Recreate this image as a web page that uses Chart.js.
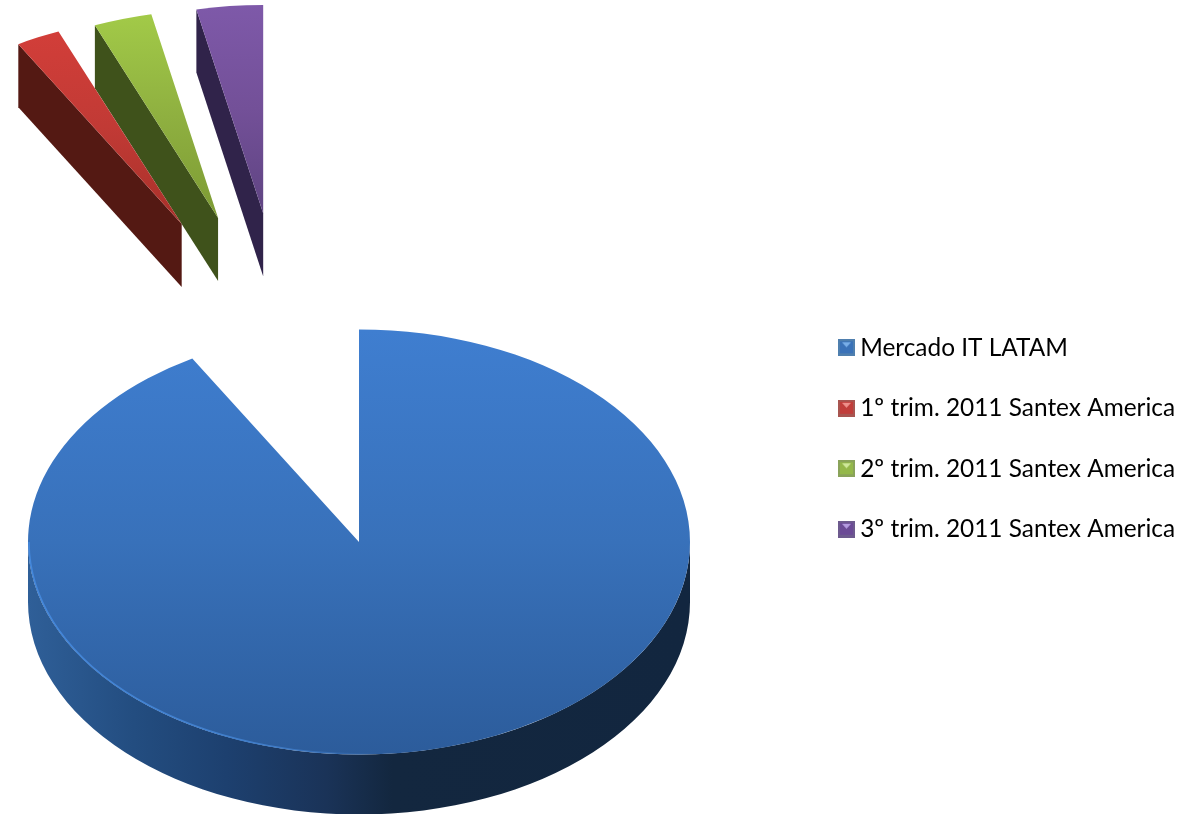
<!DOCTYPE html>
<html>
<head>
<meta charset="utf-8">
<style>
  html, body { margin: 0; padding: 0; background: #ffffff; }
  #wrap { width: 1189px; height: 814px; overflow: hidden; }
</style>
<script src="https://cdn.jsdelivr.net/npm/chart.js@4/dist/chart.umd.min.js"></script>
</head>
<body>
<div id="wrap"><canvas id="pie" width="1189" height="814"></canvas></div>
<script>
// Market share of Santex America against the LATAM IT market
const categories = [
  'Mercado IT LATAM',
  '1º trim. 2011 Santex America',
  '2º trim. 2011 Santex America',
  '3º trim. 2011 Santex America'
];
const shares = [91.6, 2.2, 2.9, 3.3];

// Pulled-out slices: how far each one leaves the pie, and in which direction
const explodeDistance = [0, 526, 524, 521];
const explodeBearing = [0, -19.7, -15.6, -10.6];
const explodedRadiusScale = [1, 0.98, 0.98, 0.98];

// Top-face gradient stops (upper edge to lower edge) and side-wall colours
const faceStops = [
  ['#3f7ed0', '#3871ba', '#2c5c9b'],
  ['#d23e39', '#c13a35', '#a83029'],
  ['#a2ca48', '#8fb040', '#7d9b34'],
  ['#7e59a9', '#735098', '#5f4482']
];
const wallColors = ['#152b4b', '#541913', '#3f521b', '#30234a'];
const baseWallStops = [
  [0, '#2f5f98'], [0.16, '#234d80'], [0.3, '#1d406f'],
  [0.45, '#1a3358'], [0.55, '#13273f'], [1, '#12263f']
];
const markerColors = [
  { edge: '#4f7fae', body: '#3a72b8', hi: '#78aee8' },
  { edge: '#a85550', body: '#c13d3a', hi: '#ee8f8a' },
  { edge: '#8aa35a', body: '#94b84a', hi: '#cfe89a' },
  { edge: '#6d5a8e', body: '#6b4a96', hi: '#b49ae0' }
];

// Perspective of the pie: vertical squash, wall height and rim
const PIE = { x: 359, y: 542, radius: 331, tilt: 0.642, depth: 60, sliceDepth: 63 };

const project = y => PIE.y + (y - PIE.y) * PIE.tilt;

function makeMarker(c) {
  const m = document.createElement('canvas');
  m.width = 17; m.height = 17;
  const g = m.getContext('2d');
  g.fillStyle = c.edge;
  g.fillRect(0, 0, 17, 17);
  g.fillStyle = c.body;
  g.fillRect(2, 2, 13, 12);
  g.fillStyle = c.hi;
  g.beginPath();
  g.moveTo(4, 3); g.lineTo(13, 3); g.lineTo(8.5, 8);
  g.closePath();
  g.fill();
  return m;
}
const markers = markerColors.map(makeMarker);

const tiltedPie = {
  id: 'tiltedPie',
  afterLayout(chart) {
    // The legend column sits beside the pie, level with its upper half
    const lg = chart.legend;
    lg.left = 808.9;
    lg.right = 1189;
    lg.top = 299.5;
    lg.bottom = 814;
  },
  afterDatasetsUpdate(chart) {
    const arcs = chart.getDatasetMeta(0).data;
    arcs.forEach((arc, i) => {
      const b = explodeBearing[i] * Math.PI / 180;
      arc.x = PIE.x + explodeDistance[i] * Math.sin(b);
      arc.y = PIE.y - explodeDistance[i] * Math.cos(b);
      arc.outerRadius = arc.outerRadius * explodedRadiusScale[i];

      // Top-face shading runs from the highest point of the slice to its lowest
      let top, bottom;
      if (i === 0) {
        top = arc.y - arc.outerRadius;
        bottom = arc.y + arc.outerRadius;
      } else {
        const ys = [arc.startAngle, arc.endAngle].map(a => arc.y + arc.outerRadius * Math.sin(a));
        top = Math.min(...ys);
        bottom = arc.y;
      }
      const grad = chart.ctx.createLinearGradient(0, top, 0, bottom);
      faceStops[i].forEach((c, k) => grad.addColorStop(k / (faceStops[i].length - 1), c));
      arc.options = Object.assign({}, arc.options, { backgroundColor: grad });
    });
  },
  beforeDatasetsDraw(chart) {
    const ctx = chart.ctx;
    const arcs = chart.getDatasetMeta(0).data;
    // Back-to-front so the nearer walls overlap the farther ones
    for (let i = arcs.length - 1; i >= 0; i--) {
      const arc = arcs[i];
      const r = arc.outerRadius;
      const d = i === 0 ? PIE.depth : PIE.sliceDepth;
      const ax = arc.x, ay = project(arc.y);
      const fx = ax + r * Math.cos(arc.startAngle);
      const fy = project(arc.y + r * Math.sin(arc.startAngle));

      ctx.fillStyle = wallColors[i];
      ctx.beginPath();
      ctx.moveTo(ax, ay);
      ctx.lineTo(fx, fy);
      ctx.lineTo(fx, fy + d);
      ctx.lineTo(ax, ay + d);
      ctx.closePath();
      ctx.fill();

      // Curved outer wall, only where it faces the viewer
      const lo = Math.max(arc.startAngle, 0);
      const hi = Math.min(arc.endAngle, Math.PI);
      if (hi > lo) {
        const g = ctx.createLinearGradient(ax - r, 0, ax + r, 0);
        baseWallStops.forEach(s => g.addColorStop(s[0], s[1]));
        ctx.fillStyle = g;
        ctx.beginPath();
        ctx.ellipse(ax, ay, r, r * PIE.tilt, 0, lo, hi);
        ctx.ellipse(ax, ay + d, r, r * PIE.tilt, 0, hi, lo, true);
        ctx.closePath();
        ctx.fill();
      }
    }
    // Every top face is drawn squashed onto the tilted plane
    ctx.save();
    ctx.translate(0, PIE.y);
    ctx.scale(1, PIE.tilt);
    ctx.translate(0, -PIE.y);
  },
  afterDatasetsDraw(chart) {
    const ctx = chart.ctx;
    ctx.restore();
    // Pale bevel along the front-left rim of the main slice
    const arc = chart.getDatasetMeta(0).data[0];
    const r = arc.outerRadius;
    const g = ctx.createLinearGradient(arc.x - r, 0, arc.x + 20, 0);
    g.addColorStop(0, '#4488dc');
    g.addColorStop(0.7, '#3f7cc8');
    g.addColorStop(1, 'rgba(63,124,200,0)');
    ctx.strokeStyle = g;
    ctx.lineWidth = 1.5;
    ctx.beginPath();
    ctx.ellipse(arc.x, project(arc.y), r - 1, (r - 1) * PIE.tilt, 0, Math.PI / 2 - 0.1, Math.PI);
    ctx.stroke();
  }
};

new Chart(document.getElementById('pie'), {
  type: 'pie',
  data: {
    labels: categories,
    datasets: [{
      data: shares,
      backgroundColor: faceStops.map(s => s[1]),
      borderWidth: 0
    }]
  },
  options: {
    responsive: false,
    animation: false,
    events: [],
    radius: PIE.radius,
    plugins: {
      tooltip: { enabled: false },
      legend: {
        position: 'right',
        align: 'start',
        labels: {
          usePointStyle: true,
          pointStyleWidth: 3,
          boxHeight: 17,
          padding: 36.1,
          color: '#000000',
          font: { family: 'Lato', size: 24.4 },
          generateLabels: chart => categories.map((text, i) => ({
            text,
            pointStyle: markers[i],
            fontColor: '#000000',
            lineWidth: 0,
            hidden: false,
            index: i
          }))
        }
      }
    }
  },
  plugins: [tiltedPie]
});
</script>
</body>
</html>
